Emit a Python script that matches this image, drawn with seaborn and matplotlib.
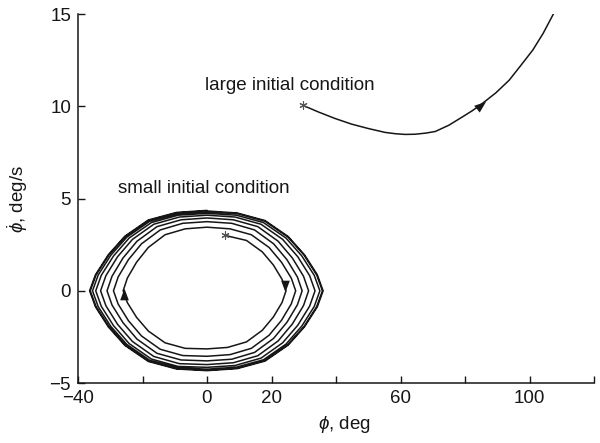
import matplotlib
matplotlib.use("Agg")
import matplotlib.pyplot as plt
from matplotlib.markers import MarkerStyle
import seaborn as sns

# ---------------- data ----------------
# small initial condition: spiral trajectory (phi [deg], phidot [deg/s]),
# one row per quarter turn, clockwise, starting at the asterisk
small_phi = [
    5.7, 12.25, 17.15, 20.58, 23.28, 24.5,
    23.28, 20.58, 17.15, 12.25, 6.37, 0.0,
    -6.76, -13.0, -18.2, -21.84, -24.7, -26.0,
    -24.7, -21.84, -18.2, -13.0, -6.76, 0.0,
    7.15, 13.75, 19.25, 23.1, 26.13, 27.5,
    26.13, 23.1, 19.25, 13.75, 7.15, 0.0,
    -7.54, -14.5, -20.3, -24.36, -27.55, -29.0,
    -27.55, -24.36, -20.3, -14.5, -7.54, 0.0,
    7.67, 14.75, 20.65, 24.78, 28.03, 29.5,
    28.03, 24.78, 20.65, 14.75, 7.67, 0.0,
    -8.06, -15.5, -21.7, -26.04, -29.45, -31.0,
    -29.45, -26.04, -21.7, -15.5, -8.06, 0.0,
    8.19, 15.75, 22.05, 26.46, 29.93, 31.5,
    29.93, 26.46, 22.05, 15.75, 8.19, 0.0,
    -8.58, -16.5, -23.1, -27.72, -31.35, -33.0,
    -31.35, -27.72, -23.1, -16.5, -8.58, 0.0,
    8.71, 16.75, 23.45, 28.14, 31.83, 33.5,
    31.83, 28.14, 23.45, 16.75, 8.71, 0.0,
    -8.97, -17.25, -24.15, -28.98, -32.78, -34.5,
    -32.78, -28.98, -24.15, -17.25, -8.97, 0.0,
    9.1, 17.5, 24.5, 29.4, 33.25, 35.0,
    33.25, 29.4, 24.5, 17.5, 9.1, 0.0,
    -9.23, -17.75, -24.85, -29.82, -33.73, -35.5,
    -33.73, -29.82, -24.85, -17.75, -9.23, 0.0,
    9.31, 17.9, 25.06, 30.07, 34.01, 35.8,
    34.01, 30.07, 25.06, 17.9, 9.31, 0.0,
    -9.41, -18.1, -25.34, -30.41, -34.39, -36.2,
    -34.39, -30.41, -25.34, -18.1, -9.41, 0.0,
    9.36, 18.0, 25.2, 30.24, 34.2, 36.0,
    34.2, 30.24, 25.2, 18.0, 9.36, 0.0,
    -9.46, -18.2, -25.48, -30.58, -34.58, -36.4,
    -34.58, -30.58, -25.48, -18.2, -9.46, 0.0,
]
small_phidot = [
    3.0, 2.73, 2.11, 1.40, 0.62, 0.0,
    -0.63, -1.42, -2.14, -2.77, -3.07, -3.15,
    -3.12, -2.82, -2.18, -1.44, -0.64, 0.0,
    0.69, 1.55, 2.35, 3.04, 3.36, 3.45,
    3.36, 3.04, 2.35, 1.55, 0.69, 0.0,
    -0.71, -1.6, -2.41, -3.12, -3.46, -3.55,
    -3.51, -3.17, -2.45, -1.62, -0.72, 0.0,
    0.75, 1.69, 2.55, 3.3, 3.66, 3.75,
    3.66, 3.3, 2.55, 1.69, 0.75, 0.0,
    -0.76, -1.71, -2.58, -3.34, -3.71, -3.8,
    -3.75, -3.39, -2.62, -1.73, -0.77, 0.0,
    0.79, 1.78, 2.69, 3.48, 3.85, 3.95,
    3.85, 3.48, 2.69, 1.78, 0.79, 0.0,
    -0.8, -1.8, -2.72, -3.52, -3.9, -4.0,
    -3.95, -3.56, -2.75, -1.82, -0.81, 0.0,
    0.82, 1.85, 2.79, 3.61, 4.0, 4.1,
    4.0, 3.61, 2.79, 1.85, 0.82, 0.0,
    -0.83, -1.87, -2.82, -3.65, -4.05, -4.15,
    -4.1, -3.7, -2.86, -1.89, -0.84, 0.0,
    0.84, 1.89, 2.86, 3.7, 4.1, 4.2,
    4.1, 3.7, 2.86, 1.89, 0.84, 0.0,
    -0.85, -1.91, -2.89, -3.74, -4.14, -4.25,
    -4.17, -3.77, -2.91, -1.93, -0.86, 0.0,
    0.86, 1.93, 2.91, 3.77, 4.17, 4.28,
    4.19, 3.78, 2.92, 1.94, 0.86, 0.0,
    -0.86, -1.94, -2.92, -3.78, -4.19, -4.3,
    -4.21, -3.8, -2.94, -1.94, -0.86, 0.0,
    0.87, 1.95, 2.94, 3.81, 4.22, 4.33,
    4.22, 3.81, 2.94, 1.95, 0.87, 0.0,
    -0.87, -1.95, -2.94, -3.81, -4.22, -4.33,
    -4.24, -3.83, -2.96, -1.96, -0.87, 0.0,
    0.87, 1.96, 2.96, 3.84, 4.25, 4.36,
]

# large initial condition trajectory
large_phi = [29.7, 34.5, 39.6, 44.8, 50.0, 55.2, 58.3, 61.4, 64.5, 67.8,
             70.8, 75.0, 79.2, 82.3, 85.4, 89.6, 93.7, 97.4, 101.0, 104.2,
             107.5]
large_phidot = [10.06, 9.7, 9.35, 9.04, 8.8, 8.59, 8.52, 8.48, 8.49, 8.55,
                8.64, 8.98, 9.43, 9.77, 10.16, 10.74, 11.42, 12.24, 13.05,
                13.95, 15.04]

# start points (asterisks)
start_phi = [5.7, 29.7]
start_phidot = [3.0, 10.06]

# direction arrows: position and heading (rotation of an up-pointing head)
arrow_phi = [24.3, -25.7, 85.0]
arrow_phidot = [0.25, -0.15, 10.1]
arrow_rot = [180, 0, -51]

# annotations
label_texts = ["large initial condition", "small initial condition"]
label_phi = [-0.5, -27.7]
label_phidot = [10.91, 5.33]

x_ticks = [-40, -20, 0, 20, 40, 60, 80, 100, 120]
x_tick_labels = ["\u221240", "", "0", "20", "", "60", "", "100", ""]
y_ticks = [-5, 0, 5, 10, 15]
y_tick_labels = ["\u22125", "0", "5", "10", "15"]

# ---------------- styling ----------------
ink = "#161616"
sns.set_style("ticks")
plt.rcParams["font.family"] = ["Liberation Sans", "DejaVu Sans"]
plt.rcParams["mathtext.fontset"] = "custom"
plt.rcParams["mathtext.rm"] = "Liberation Sans"
plt.rcParams["mathtext.it"] = "Liberation Sans:italic"
plt.rcParams["mathtext.bf"] = "Liberation Sans:bold"
fs = 13.5

fig = plt.figure(figsize=(6, 4.43), dpi=100)
ax = fig.add_axes([0.13, 0.1354, 0.86, 0.8326])

sns.lineplot(x=small_phi, y=small_phidot, sort=False, estimator=None,
             color=ink, lw=1.1, ax=ax)
sns.lineplot(x=large_phi, y=large_phidot, sort=False, estimator=None,
             color=ink, lw=1.1, ax=ax)

ax.scatter(start_phi, start_phidot, marker=(6, 2, 0), s=28, color="#555555",
           lw=0.8, zorder=4)

head = [(0, 1), (-0.75, -1), (0.75, -1), (0, 1)]
for px, py, rot in zip(arrow_phi, arrow_phidot, arrow_rot):
    ax.scatter([px], [py], marker=MarkerStyle(head).rotated(deg=rot), s=70,
               color=ink, lw=0, zorder=5)

for t, px, py in zip(label_texts, label_phi, label_phidot):
    ax.text(px, py, t, fontsize=fs, ha="left", va="baseline", color=ink)

ax.set_xlim(-40, 120)
ax.set_ylim(-5, 15)
ax.set_xticks(x_ticks)
ax.set_xticklabels(x_tick_labels)
ax.set_yticks(y_ticks)
ax.set_yticklabels(y_tick_labels)
ax.tick_params(direction="in", length=5, width=1.0, labelsize=fs,
               colors=ink, pad=5)
for s in ["left", "bottom"]:
    ax.spines[s].set_linewidth(1.1)
    ax.spines[s].set_color(ink)
sns.despine(ax=ax)

ax.set_xlabel(r"$\phi$, deg", fontsize=fs, color=ink, labelpad=6)
ax.set_ylabel(r"$\dot{\phi}$, deg/s", fontsize=fs, color=ink, labelpad=14)
ax.xaxis.set_label_coords(0.517, -0.085)

fig.savefig("out.png", dpi=100)
